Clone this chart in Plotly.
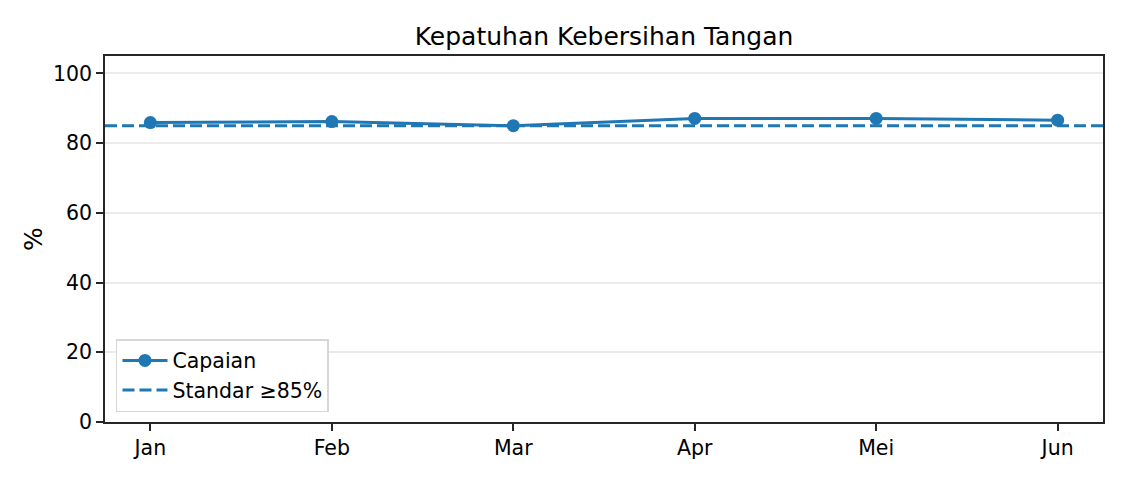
import plotly.graph_objects as go

# data kepatuhan per bulan
bulan = ["Jan", "Feb", "Mar", "Apr", "Mei", "Jun"]
capaian = [85.9, 86.2, 85.0, 87.1, 87.1, 86.6]
standar = 85

biru = "#1f77b4"

fig = go.Figure()
fig.add_trace(go.Scatter(
    x=list(range(len(bulan))), y=capaian, name="Capaian",
    mode="lines+markers", line=dict(color=biru, width=3),
    marker=dict(size=13, color=biru)
))
# garis standar melintang penuh
fig.add_trace(go.Scatter(
    x=[-0.25, len(bulan) - 0.75], y=[standar, standar], name="Standar ≥85%",
    mode="lines", line=dict(color=biru, width=3, dash="12px,5px")
))

fig.update_layout(
    width=1125, height=480,
    margin=dict(l=97, r=30, t=48, b=66),
    paper_bgcolor="white", plot_bgcolor="white",
    font=dict(family="DejaVu Sans", size=20.5, color="black"),
    title=dict(text="Kepatuhan Kebersihan Tangan", x=0.5, xref="paper",
               xanchor="center", y=0.942, yanchor="middle",
               font=dict(size=25)),
    xaxis=dict(
        range=[-0.25, 5.25], tickmode="array",
        tickvals=list(range(len(bulan))), ticktext=bulan,
        showgrid=False, zeroline=False, showline=True, linecolor="#262626",
        linewidth=1.5, mirror=True, ticks="outside", ticklen=7,
        tickwidth=1.5, tickcolor="#262626"
    ),
    yaxis=dict(
        range=[0, 105], tickvals=[0, 20, 40, 60, 80, 100],
        showgrid=True, gridcolor="#ebebeb", gridwidth=1.5, zeroline=False,
        showline=True, linecolor="#262626", linewidth=1.5, mirror=True,
        ticks="outside", ticklen=7, tickwidth=1.5, tickcolor="#262626",
        title=dict(text="%", standoff=3)
    ),
    legend=dict(
        x=0.011, y=0.027, xanchor="left", yanchor="bottom",
        bgcolor="white", bordercolor="#d6d6d6", borderwidth=1.5,
        font=dict(size=20.5), itemwidth=45
    ),
    showlegend=True
)

fig.write_html("out.html")
